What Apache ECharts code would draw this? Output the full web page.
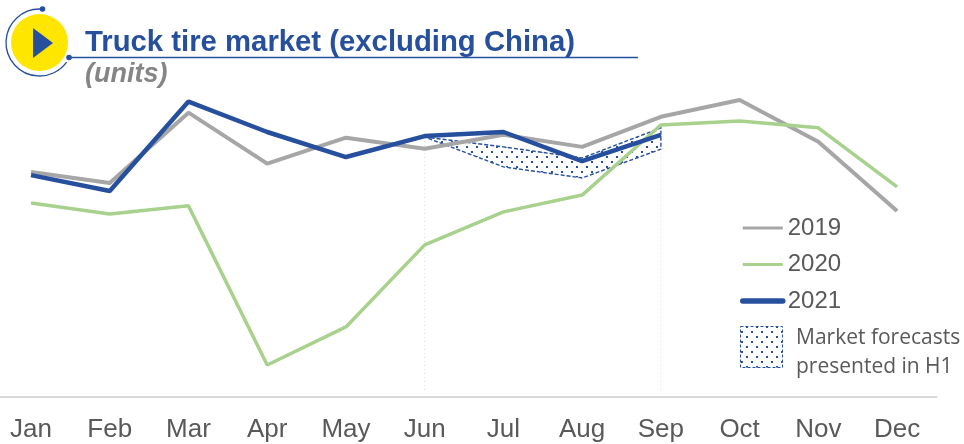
<!DOCTYPE html>
<html>
<head>
<meta charset="utf-8">
<style>html,body{margin:0;padding:0;background:#fff}#chart{width:964px;height:444px}</style>
<script src="https://cdn.jsdelivr.net/npm/echarts@6/dist/echarts.min.js"></script>
</head>
<body>
<div id="chart"></div>
<script>
// Monthly truck tire market, index scale (0 to 100)
const months = ['Jan','Feb','Mar','Apr','May','Jun','Jul','Aug','Sep','Oct','Nov','Dec'];
const sales2019 = [71,67.5,89.7,73.6,81.8,78.3,82.7,78.9,88.4,93.7,80.5,58.7];
const sales2020 = [61.2,57.7,60.3,10.1,22.1,48,58.4,63.7,85.8,87.1,84.9,66.3];
const sales2021 = [70,65,93.2,83.6,75.7,82.3,83.6,74.4,82.7];
const forecastMonths = ['Jun','Jul','Aug','Sep'];
const forecastHigh = [82,78.9,75.4,84.9];
const forecastLow = [82,72.6,69.1,78.2];

const BLUE = '#264f9e';

// Tiled dot texture for the forecast band
function dotTexture() {
  const c = document.createElement('canvas');
  c.width = 10; c.height = 10;
  const g = c.getContext('2d');
  g.fillStyle = '#fff';
  g.fillRect(0, 0, 10, 10);
  g.fillStyle = BLUE;
  g.fillRect(1, 1, 2, 2);
  g.fillRect(6, 6, 2, 2);
  return c;
}
const dots = { image: dotTexture(), repeat: 'repeat' };

const chart = echarts.init(document.getElementById('chart'));
chart.setOption({
  animation: false,
  backgroundColor: '#fff',
  textStyle: { fontFamily: '"Liberation Sans", Arial, sans-serif' },
  title: [
    { text: 'Truck tire market (excluding China)', left: 80, top: 23,
      textStyle: { fontSize: 29.3, fontWeight: 'bold', color: BLUE } },
    { text: '(units)', left: 80, top: 56,
      textStyle: { fontSize: 27, fontWeight: 'bold', fontStyle: 'italic', color: '#858585' } }
  ],
  grid: { left: -8.35, width: 944.8, top: 80, height: 317, outerBoundsMode: 'none' },
  xAxis: {
    type: 'category', data: months, boundaryGap: true,
    axisTick: { show: false },
    axisLine: { lineStyle: { color: '#d9d9d9', width: 2 } },
    axisLabel: { fontSize: 26, color: '#595959', margin: 20 }
  },
  yAxis: { type: 'value', min: 0, max: 100, show: false, splitLine: { show: false } },
  legend: {
    orient: 'vertical', left: 735, top: 211, itemWidth: 40, itemHeight: 3, itemGap: 12.5, itemStyle: { opacity: 0 },
    data: [
      { name: '2019', lineStyle: { width: 3 } },
      { name: '2020', lineStyle: { width: 3 } },
      { name: '2021', lineStyle: { width: 5.5, cap: 'round' } }
    ],
    textStyle: { fontSize: 24, color: '#595959' },
    selectedMode: false
  },
  series: [
    { name: '2019', type: 'line', data: sales2019, symbol: 'none', z: 2,
      lineStyle: { color: '#a6a6a6', width: 4 }, itemStyle: { color: '#a6a6a6' } },
    { name: '2020', type: 'line', data: sales2020, symbol: 'none', z: 2,
      lineStyle: { color: '#a9d18e', width: 3.5 }, itemStyle: { color: '#a9d18e' } },
    {
      name: 'Forecast', type: 'custom', z: 1, coordinateSystem: 'cartesian2d',
      data: forecastMonths.map((m, i) => [m, forecastHigh[i], forecastLow[i]]),
      encode: { x: 0, y: [1, 2] },
      renderItem(params, api) {
        if (params.dataIndex !== 0) return null;
        const upper = forecastMonths.map((m, i) => api.coord([m, forecastHigh[i]]));
        const lower = forecastMonths.map((m, i) => api.coord([m, forecastLow[i]])).reverse();
        const baseFirst = api.coord(['Jun', 2]);
        const baseLast = api.coord(['Sep', 2]);
        const guide = { stroke: '#d5d9e6', lineWidth: 1, lineDash: [1, 3] };
        return {
          type: 'group',
          children: [
            { type: 'line', shape: { x1: upper[0][0], y1: upper[0][1], x2: baseFirst[0], y2: baseFirst[1] }, style: guide },
            { type: 'line', shape: { x1: baseLast[0], y1: lower[0][1], x2: baseLast[0], y2: baseLast[1] }, style: guide },
            { type: 'polygon', shape: { points: upper.concat(lower) },
              style: { fill: dots, stroke: BLUE, lineWidth: 1.4, lineDash: [4, 2] } }
          ]
        };
      }
    },
    { name: '2021', type: 'line', data: sales2021, symbol: 'none', z: 4,
      lineStyle: { color: BLUE, width: 4.5 }, itemStyle: { color: BLUE } }
  ],
  graphic: [
    // Badge beside the heading
    { type: 'arc', shape: { cx: 39.5, cy: 42.5, r: 33.5, startAngle: -Math.PI / 2 + 0.05, endAngle: Math.PI * 0.2, clockwise: false },
      style: { stroke: BLUE, lineWidth: 1.3, fill: null } },
    { type: 'circle', shape: { cx: 42.5, cy: 9, r: 2.8 }, style: { fill: BLUE } },
    { type: 'circle', shape: { cx: 69, cy: 57.5, r: 2.8 }, style: { fill: BLUE } },
    { type: 'circle', shape: { cx: 39.5, cy: 42.5, r: 28.5 }, style: { fill: '#ffe600' } },
    { type: 'polygon', shape: { points: [[33, 28], [53, 43], [33, 58]] }, style: { fill: BLUE } },
    { type: 'line', shape: { x1: 69, y1: 57.5, x2: 638, y2: 57.5 }, style: { stroke: BLUE, lineWidth: 1.3 } },
    // Forecast key
    { type: 'rect', shape: { x: 740.5, y: 326.5, width: 42, height: 41 },
      style: { fill: dots, stroke: BLUE, lineWidth: 1, lineDash: [3, 2] } },
    { type: 'text', x: 796, y: 324, style: { text: 'Market forecasts\npresented in H1',
      font: '21px "Open Sans", sans-serif', lineHeight: 29, fill: '#595959' } }
  ]
});
</script>
</body>
</html>
